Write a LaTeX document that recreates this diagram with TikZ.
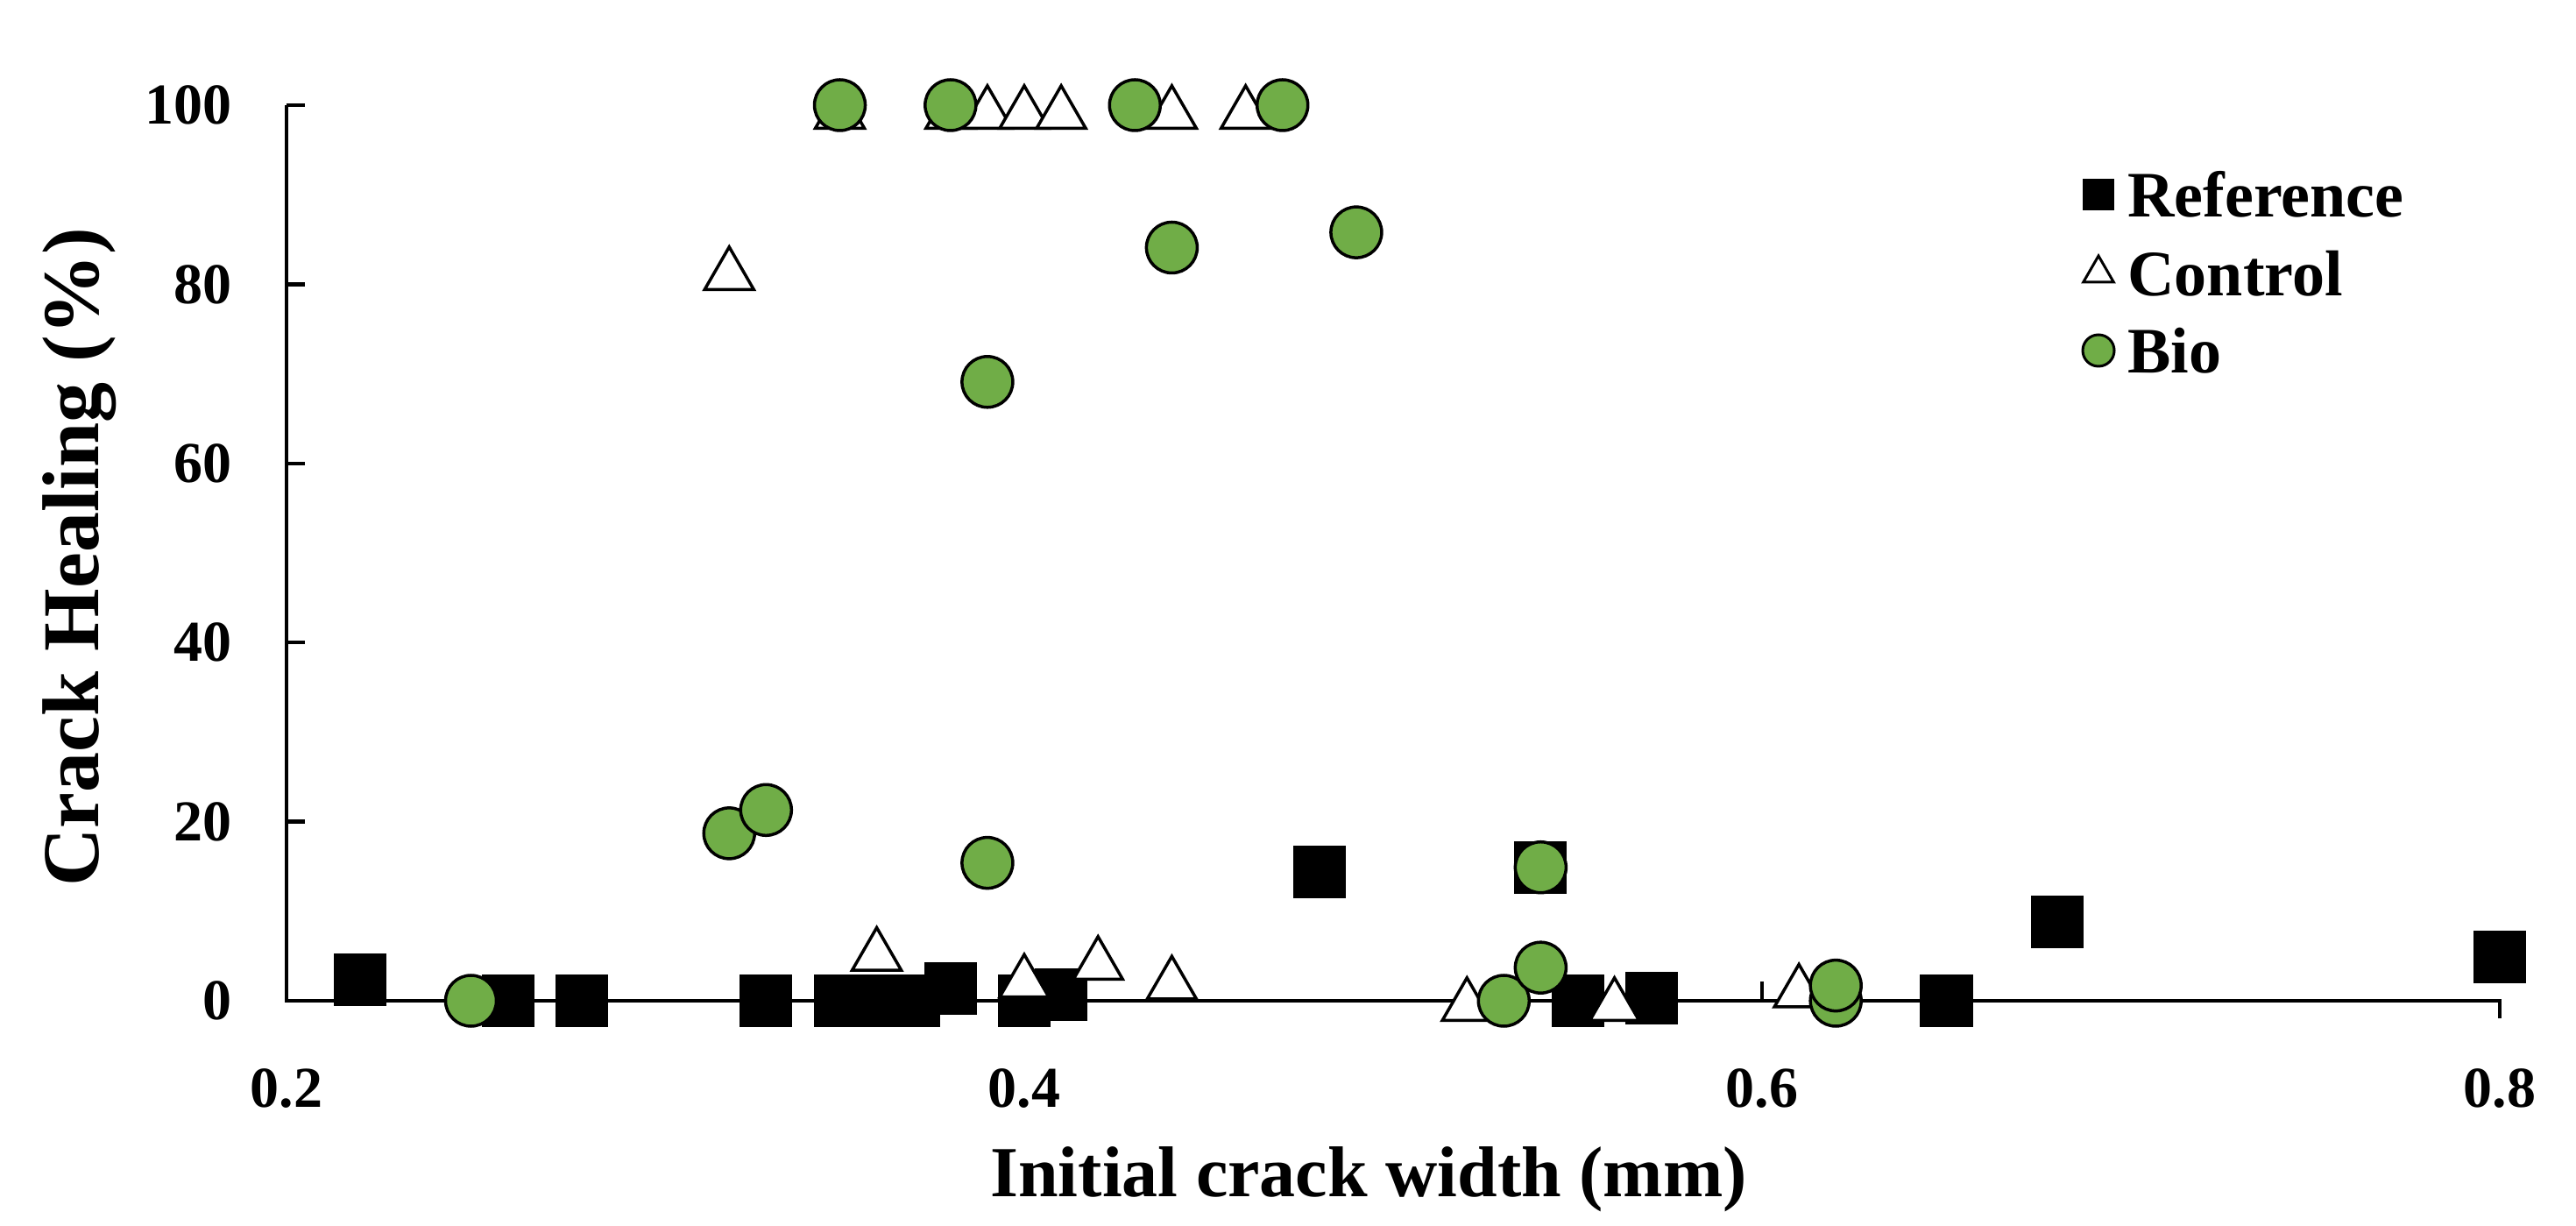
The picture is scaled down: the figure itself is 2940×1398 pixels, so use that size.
\documentclass[tikz,border=0pt]{standalone}
\usepackage{fontspec}
\setmainfont{Liberation Serif}
\usetikzlibrary{shapes.geometric}
\definecolor{bio}{HTML}{70AD47}
\begin{document}
\begin{tikzpicture}[x=1pt,y=1pt,
  refm/.style={fill=black,minimum size=60pt,inner sep=0pt,draw=none,rectangle},
  ctlm/.style={draw=black,line width=3.5pt,fill=white,isosceles triangle,isosceles triangle apex angle=60,shape border rotate=90,minimum width=56pt,minimum height=48pt,inner sep=0pt},
  biom/.style={circle,draw=black,line width=3.5pt,fill=bio,minimum size=58pt,inner sep=0pt},
  tick/.style={font=\bfseries\fontsize{66}{66}\selectfont},
  ttl/.style={font=\bfseries\fontsize{82}{82}\selectfont},
  leg/.style={anchor=west,font=\bfseries\fontsize{74}{74}\selectfont}]
\useasboundingbox (0,0) rectangle (2940,1398);
\begin{scope}[shift={(-515pt,256pt)},x=4210pt,y=10.22pt]
 \coordinate (o) at (0.2,0); \coordinate (top) at (0.2,100); \coordinate (xe) at (0.8,0);
 \draw[line width=4.5pt] (top) -- (o) -- (xe) -- ++(0,-2);
 \draw[line width=4.5pt] (0.6,0) -- (0.6,2.2);
 \foreach \v in {0,20,...,100}{
   \draw[line width=4.5pt] (0.2,\v) -- ++(21pt,0);
   \node[tick,anchor=east] (yl\v) at (0.2-0.014,\v) {\v};}
 \foreach \v in {0.2,0.4,0.6,0.8}
   \node[tick] (xl\v) at (\v,-9.8) {\v};
 % Reference
 \foreach[count=\i] \a/\b in {0.22/2.3,0.26/0,0.28/0,0.33/0,0.35/0,0.355/0,0.36/0,0.37/0,0.38/1.4,0.40/0,0.41/0.7,0.48/14.4,0.54/14.9,0.55/0,0.57/0.3,0.65/0,0.68/8.8,0.80/4.9}
   \node[refm] (r\i) at (\a,\b) {};
 % Control
 \foreach[count=\i] \a/\b in {0.35/99,0.38/99,0.39/99,0.40/99,0.41/99,0.44/99,0.46/99,0.32/81,0.36/5,0.40/2,0.42/4,0.44/1.8,0.52/-0.6,0.56/-0.6,0.61/0.9}
   \node[ctlm] (c\i) at (\a,\b) {};
 % Bio
 \foreach[count=\i] \a/\b in {0.35/100,0.38/100,0.43/100,0.47/100,0.44/84.1,0.49/85.8,0.39/69.1,0.32/18.7,0.33/21.3,0.39/15.4,0.25/0,0.53/0,0.54/14.9,0.54/3.7,0.62/0,0.62/1.7}
   \node[biom] (b\i) at (\a,\b) {};
\end{scope}
% legend
\node[rectangle,fill=black,minimum size=36pt,inner sep=0pt] (lr) at (2395,1176) {};
\node[isosceles triangle,isosceles triangle apex angle=60,shape border rotate=90,draw,line width=3pt,minimum width=34pt,minimum height=30pt,inner sep=0pt] (lc) at (2395,1086) {};
\node[circle,draw,line width=3pt,fill=bio,minimum size=36pt,inner sep=0pt] (lb) at (2395,998) {};
\node[leg] (tr) at (2425,1176) {Reference};
\node[leg] (tc) at (2425,1086) {Control};
\node[leg] (tb) at (2425,998) {Bio};
% titles
\node[ttl] (xtitle) at (1562,52) {Initial crack width (mm)};
\node[ttl,rotate=90,font=\bfseries\fontsize{92}{92}\selectfont] (yt) at (91,762) {Crack Healing (\%)};
\end{tikzpicture}
\end{document}
